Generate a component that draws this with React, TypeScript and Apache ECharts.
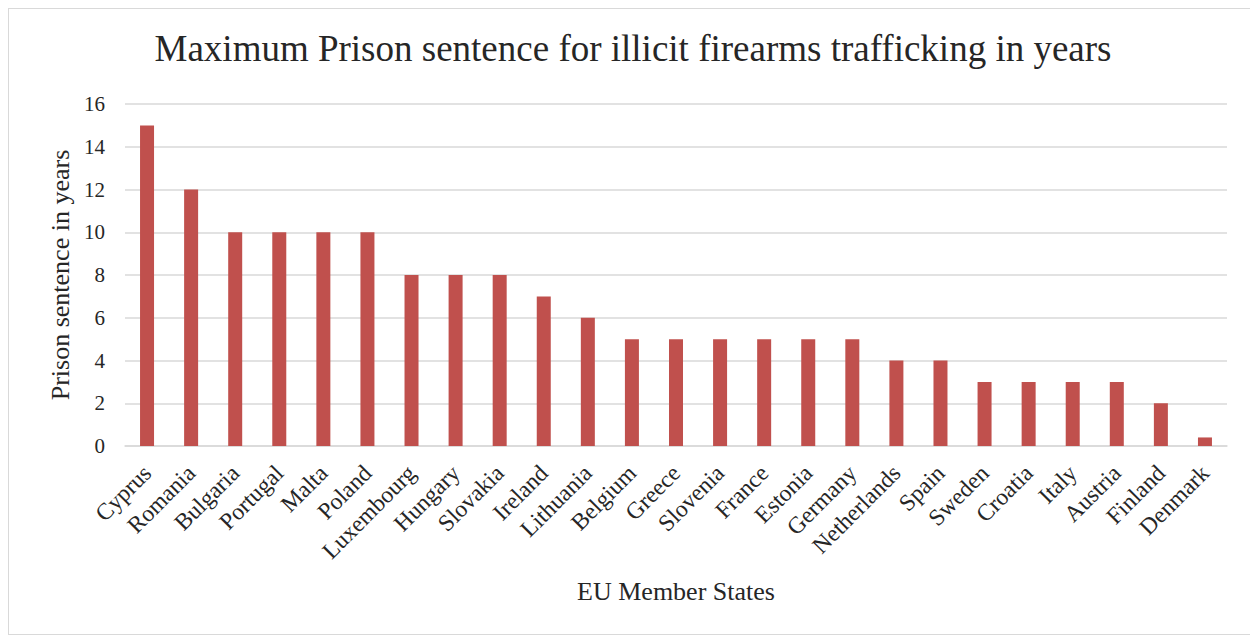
import React, { useEffect, useRef } from "react";
import * as echarts from "echarts";

const categories = ["Cyprus","Romania","Bulgaria","Portugal","Malta","Poland","Luxembourg","Hungary","Slovakia","Ireland","Lithuania","Belgium","Greece","Slovenia","France","Estonia","Germany","Netherlands","Spain","Sweden","Croatia","Italy","Austria","Finland","Denmark"];
const sentences = [15,12,10,10,10,10,8,8,8,7,6,5,5,5,5,5,5,4,4,3,3,3,3,2,0.4];
const yTicks = [0,2,4,6,8,10,12,14,16];

export default function App() {
  const ref = useRef<HTMLDivElement>(null);
  useEffect(() => {
    if (!ref.current) return;
    const chart = echarts.init(ref.current, null, { renderer: "svg" });
    const font = "'Liberation Serif', 'Times New Roman', serif";
    chart.setOption({
      animation: false,
      textStyle: { fontFamily: font },
      title: {
        text: "Maximum Prison sentence for illicit firearms trafficking in years",
        left: "center",
        top: 16,
        textStyle: { fontFamily: font, fontSize: 37, fontWeight: "normal", color: "#262626" },
      },
      grid: { left: 116, right: 30, top: 95, bottom: 188, containLabel: false },
      xAxis: {
        type: "category",
        data: categories,
        name: "EU Member States",
        nameLocation: "middle",
        nameGap: 132,
        nameTextStyle: { fontFamily: font, fontSize: 26, color: "#262626" },
        axisLine: { show: true, lineStyle: { color: "#d9d9d9", width: 1.5 } },
        axisTick: { show: false },
        axisLabel: { rotate: 45, interval: 0, fontSize: 23.5, color: "#262626", margin: 23, fontFamily: font },
      },
      yAxis: {
        type: "value",
        min: 0,
        max: 16,
        interval: 2,
        name: "Prison sentence in years",
        nameLocation: "middle",
        nameGap: 52,
        nameTextStyle: { fontFamily: font, fontSize: 26, color: "#262626" },
        axisLine: { show: false },
        axisTick: { show: false },
        axisLabel: { fontSize: 21, color: "#262626", margin: 20, fontFamily: font,
          formatter: (v: number) => (yTicks.includes(v) ? String(v) : "") },
        splitLine: { lineStyle: { color: "#d9d9d9", width: 1.5 } },
      },
      series: [
        {
          type: "bar",
          data: sentences,
          barWidth: 14,
          itemStyle: { color: "#C0504D" },
        },
      ],
    });
    return () => chart.dispose();
  }, []);
  return (
    <div
      ref={ref}
      style={{ width: 1250, height: 627, border: "1px solid #d9d9d9", boxSizing: "border-box" }}
    />
  );
}
